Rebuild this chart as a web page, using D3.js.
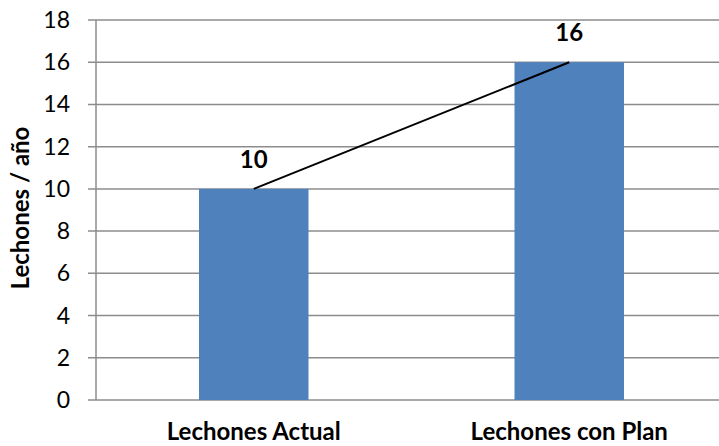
<!DOCTYPE html>
<html>
<head>
<meta charset="utf-8">
<script src="https://cdn.jsdelivr.net/npm/d3@7"></script>
<style>
body { margin: 0; background: #fff; }
text { font-family: Lato, "Liberation Sans", sans-serif; }
</style>
</head>
<body>
<div class="chart"></div>
<script>
var WIDTH = 719;
var HEIGHT = 446;

var categories = ["Lechones Actual", "Lechones con Plan"];
var values = [10, 16];
var yTicks = [0, 2, 4, 6, 8, 10, 12, 14, 16, 18];

var PLOT_L = 96, PLOT_R = 727, PLOT_T = 20, PLOT_B = 400;

var svg = d3.select(".chart")
    .append("svg")
    .attr("width", WIDTH)
    .attr("height", HEIGHT);

var x = d3.scaleBand()
    .domain(categories)
    .range([PLOT_L, PLOT_R])
    .paddingInner(0.653)
    .paddingOuter(0.3265);

var y = d3.scaleLinear()
    .domain([0, 18])
    .range([PLOT_B, PLOT_T]);

// gridlines
svg.append("g")
    .selectAll("line")
    .data(yTicks)
    .enter().append("line")
    .attr("x1", PLOT_L - 8)
    .attr("x2", WIDTH)
    .attr("y1", function(d) { return y(d); })
    .attr("y2", function(d) { return y(d); })
    .attr("stroke", "#8c8c8c")
    .attr("stroke-width", 1.5);

// y axis line
svg.append("line")
    .attr("x1", PLOT_L)
    .attr("x2", PLOT_L)
    .attr("y1", PLOT_T)
    .attr("y2", PLOT_B)
    .attr("stroke", "#8c8c8c")
    .attr("stroke-width", 1.5);

// tick labels
svg.append("g")
    .selectAll("text")
    .data(yTicks)
    .enter().append("text")
    .attr("x", 70)
    .attr("y", function(d) { return y(d); })
    .attr("dy", "0.35em")
    .attr("text-anchor", "end")
    .attr("font-size", 23)
    .attr("fill", "#000")
    .text(function(d) { return d; });

// bars
svg.append("g")
    .selectAll("rect")
    .data(values)
    .enter().append("rect")
    .attr("x", function(d, i) { return x(categories[i]); })
    .attr("y", function(d) { return y(d); })
    .attr("width", x.bandwidth())
    .attr("height", function(d) { return PLOT_B - y(d); })
    .attr("fill", "#4f81bd");

// connecting line
var line = d3.line()
    .x(function(d, i) { return x(categories[i]) + x.bandwidth() / 2; })
    .y(function(d) { return y(d); });

svg.append("path")
    .datum(values)
    .attr("d", line)
    .attr("fill", "none")
    .attr("stroke", "#000")
    .attr("stroke-width", 2);

// value labels
svg.append("g")
    .selectAll("text")
    .data(values)
    .enter().append("text")
    .attr("x", function(d, i) { return x(categories[i]) + x.bandwidth() / 2; })
    .attr("y", function(d) { return y(d) - 21; })
    .attr("text-anchor", "middle")
    .attr("font-size", 24)
    .attr("font-weight", "bold")
    .text(function(d) { return d; });

// category labels
svg.append("g")
    .selectAll("text")
    .data(categories)
    .enter().append("text")
    .attr("x", function(d) { return x(d) + x.bandwidth() / 2; })
    .attr("y", 440)
    .attr("text-anchor", "middle")
    .attr("font-size", 24)
    .attr("font-weight", "bold")
    .text(function(d) { return d; });

// y title
svg.append("text")
    .attr("transform", "translate(29,208) rotate(-90)")
    .attr("text-anchor", "middle")
    .attr("font-size", 24)
    .attr("font-weight", "bold")
    .text("Lechones / año");
</script>
</body>
</html>
